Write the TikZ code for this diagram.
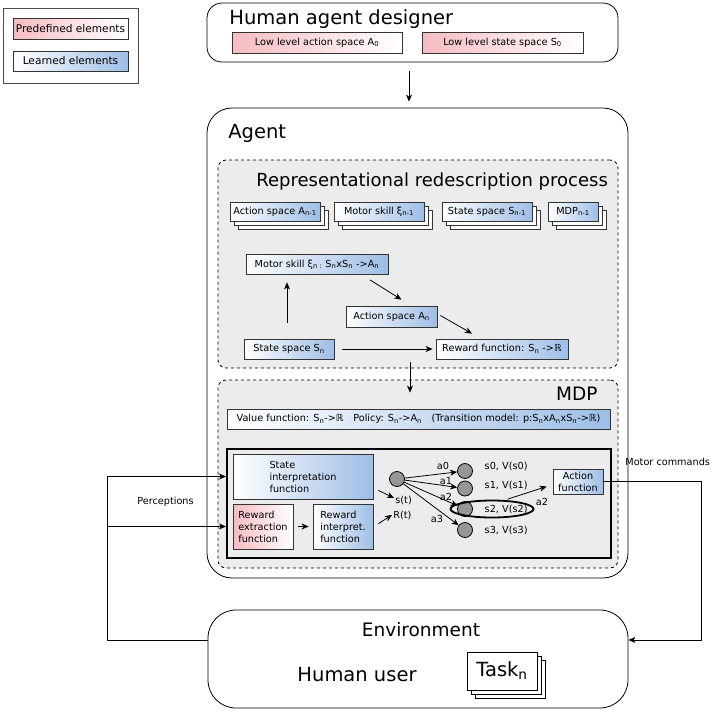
\documentclass[tikz,border=0pt]{standalone}
\usepackage{fontspec}
\setmainfont{DejaVu Sans}
\usetikzlibrary{shapes.geometric,shadows,arrows.meta}

\definecolor{predpink}{RGB}{245,188,194}
\definecolor{learnblue}{RGB}{158,190,230}
\definecolor{panelgray}{RGB}{236,236,236}
\definecolor{dotgray}{RGB}{150,150,150}

\tikzset{
  txtsmall/.style={font=\fontsize{9.7}{12}\selectfont},
  txtbig/.style={font=\fontsize{19.5}{23}\selectfont},
  plainbox/.style={draw=black!80, txtsmall, inner sep=1pt},
  predbox/.style={plainbox, left color=predpink, right color=white},
  learnbox/.style={plainbox, left color=white, right color=learnblue},
  stackbox/.style={plainbox, fill=white,
    copy shadow={shadow xshift=8pt,shadow yshift=-8pt},
    copy shadow={shadow xshift=4pt,shadow yshift=-4pt},
    postaction={draw=black!80, left color=white, right color=learnblue}},
  panel/.style={draw, dashed, fill=panelgray, rounded corners=8pt},
  statedot/.style={circle, draw, fill=dotgray, minimum size=15pt, inner sep=0pt},
}

\begin{document}
\begin{tikzpicture}[x=1pt, y=-1pt, >={Stealth[length=7pt,width=6pt,inset=2pt]}, line width=0.8pt]
\useasboundingbox (0,0) rectangle (713,713);

% legend
\node[draw=black!70, minimum width=135pt, minimum height=75pt] (legend) at (70.5,45.5) {};
\node[predbox, font=\fontsize{10.6}{12}\selectfont, minimum width=115pt, minimum height=21pt] (predef) at (70.5,28.5) {Predefined elements};
\node[learnbox, font=\fontsize{10.6}{12}\selectfont, minimum width=115pt, minimum height=20pt] (learned) at (70.5,61) {Learned elements};

% human agent designer
\node[draw, rounded corners=15pt, minimum width=411pt, minimum height=59pt] (designer) at (412.5,32.5) {};
\node[txtbig, anchor=base west, inner sep=0pt] (designertitle) at (229,24) {Human agent designer};
\node[predbox, minimum width=170pt, minimum height=21pt] (lowaction) at (317,42.5) {Low level action space A\textsubscript{0}};
\node[predbox, minimum width=161pt, minimum height=21pt] (lowstate) at (502.5,42.5) {Low level state space S\textsubscript{0}};

% agent
\node[draw, rounded corners=25pt, minimum width=421pt, minimum height=470pt] (agent) at (417.5,343) {};
\node[txtbig, anchor=base west, inner sep=0pt] (agenttitle) at (228,138) {Agent};
\draw[->] ([xshift=-3.5pt,yshift=-9pt]designer.south) -- ([xshift=-3.5pt,yshift=6pt]designer.south |- agent.north);

% representational redescription
\node[panel, minimum width=400pt, minimum height=208pt] (reprbox) at (418,264) {};
\node[anchor=base west, inner sep=0pt, font=\fontsize{18}{22}\selectfont] (reprtitle) at (256,186) {Representational redescription process};
\node[stackbox, minimum width=90pt, minimum height=19pt] (prevaction) at (275,211.5) {Action space A\textsubscript{n-1}};
\node[stackbox, minimum width=90pt, minimum height=19pt] (prevskill) at (379,211.5) {Motor skill ξ\textsubscript{n-1}};
\node[stackbox, minimum width=90pt, minimum height=19pt] (prevstate) at (487,211.5) {State space S\textsubscript{n-1}};
\node[stackbox, minimum width=50pt, minimum height=19pt] (prevmdp) at (573,211.5) {MDP\textsubscript{n-1}};

\node[learnbox, minimum width=142pt, minimum height=20pt] (motor) at (317,264.5) {Motor skill ξ\textsubscript{n :} S\textsubscript{n}xS\textsubscript{n} ->A\textsubscript{n}};
\node[learnbox, minimum width=91pt, minimum height=21pt] (actn) at (391.5,316.5) {Action space A\textsubscript{n}};
\node[learnbox, minimum width=90pt, minimum height=20pt] (staten) at (289,349) {State space S\textsubscript{n}};
\node[learnbox, minimum width=132pt, minimum height=20pt] (rewardfn) at (502,349) {Reward function: S\textsubscript{n} ->ℝ};

\draw[->] ([xshift=-2pt,yshift=16pt]staten.north) -- ([xshift=-2pt,yshift=-7.5pt]staten.north |- motor.south);
\draw[->] ([xshift=53pt,yshift=-5pt]motor.south) -- ([xshift=10pt,yshift=6pt]actn.north);
\draw[->] ([xshift=3pt,yshift=1pt]actn.east) -- ([xshift=-30pt,yshift=5pt]rewardfn.north);
\draw[->, shorten <=8pt, shorten >=3pt] (staten.east) -- (rewardfn.west);

% MDP
\node[panel, minimum width=400pt, minimum height=188pt] (mdpbox) at (418,474) {};
\node[anchor=base east, inner sep=0pt, font=\fontsize{18.5}{22}\selectfont] (mdptitle) at (598,400) {MDP};
\draw[->] ([xshift=-8pt,yshift=6pt]reprbox.south) -- ([xshift=-8pt,yshift=-13pt]mdpbox.north);
\node[learnbox, minimum width=383pt, minimum height=20pt] (valuebar) at (418.5,419)
  {Value function: S\textsubscript{n}->ℝ\quad Policy: S\textsubscript{n}->A\textsubscript{n}\quad (Transition model: p:S\textsubscript{n}xA\textsubscript{n}xS\textsubscript{n}->ℝ)};

\node[draw, line width=2pt, fill=panelgray, minimum width=384pt, minimum height=109pt] (innerbox) at (419,503.5) {};
\node[learnbox, align=left, minimum width=140pt, minimum height=45pt] (stateint) at (303,476.5) {State\\interpretation\\function};
\node[predbox, align=left, minimum width=60pt, minimum height=45pt] (rewext) at (263,526.5) {Reward\\extraction\\function};
\node[learnbox, align=left, minimum width=60pt, minimum height=45pt] (rewint) at (343,526.5) {Reward\\interpret.\\function};
\draw[->, shorten <=5pt, shorten >=4pt] (rewext.east) -- (rewext.east -| rewint.west);

\node[txtsmall, anchor=west, inner sep=1pt] (st) at (394,500) {s(t)};
\node[txtsmall, anchor=west, inner sep=1pt] (rt) at (392,515) {R(t)};
\draw[->] ([xshift=5pt,yshift=9pt]stateint.south east) -- ([yshift=2pt]st.west);
\draw[->] ([xshift=5pt,yshift=-20pt]rewint.north east) -- (rt.west);

% states
\node[statedot] (src) at (397,479) {};
\node[statedot] (s0) at (465,471) {};
\node[statedot] (s1) at (465,488.5) {};
\node[statedot] (s2) at (465,509) {};
\node[statedot] (s3) at (465,530) {};
\node[txtsmall, anchor=west] (v0) at (481,466) {s0, V(s0)};
\node[txtsmall, anchor=west] (v1) at (481,485) {s1, V(s1)};
\node[txtsmall, anchor=west] (v2) at (481,509) {s2, V(s2)};
\node[txtsmall, anchor=west] (v3) at (481,530) {s3, V(s3)};
\node[ellipse, draw, line width=1.8pt, minimum width=83pt, minimum height=17pt, inner sep=0pt] (choice) at (492,509) {};
\draw[->] (src) -- (s0);
\draw[->] (src) -- (s1);
\draw[->] (src) -- (s2);
\draw[->] (src) -- (s3);
\node[txtsmall] (a0) at (443,466) {a0};
\node[txtsmall] (a1) at (446,481) {a1};
\node[txtsmall] (a2) at (446,497) {a2};
\node[txtsmall] (a3) at (437,519) {a3};

\node[learnbox, align=center, minimum width=50pt, minimum height=25pt] (actfn) at (578,481.5) {Action\\function};
\draw[->, shorten <=3pt] (choice.35) -- ([xshift=-6pt,yshift=-5pt]actfn.west);
\node[txtsmall] (a2sel) at (542,502) {a2};

% environment
\node[draw, rounded corners=28pt, minimum width=420pt, minimum height=98pt] (env) at (418,659) {};
\node[font=\fontsize{18.5}{22}\selectfont] (envtitle) at (421,630) {Environment};
\node[txtbig] (humanuser) at (357,675) {Human user};
\node[draw, fill=white, txtbig, minimum width=70pt, minimum height=38pt,
  copy shadow={shadow xshift=8pt,shadow yshift=-8pt},
  copy shadow={shadow xshift=4pt,shadow yshift=-4pt}] (task) at (502,671) {Task\textsubscript{n}};

% perceptions and motor commands
\coordinate (pcorner) at (107,640);
\coordinate (mcorner) at (701,640);
\draw[->] (pcorner -| env.west) -- (pcorner) |- (innerbox.west |- stateint.west);
\draw[->] (pcorner |- rewext.west) -- (innerbox.west |- rewext.west);
\node[txtsmall] (perclabel) at (165.5,502) {Perceptions};
\draw[->] (actfn.east) -| (mcorner) -- (mcorner -| env.east);
\node[txtsmall, anchor=west, inner sep=0pt] (mclabel) at (625,462) {Motor commands};
\end{tikzpicture}
\end{document}
